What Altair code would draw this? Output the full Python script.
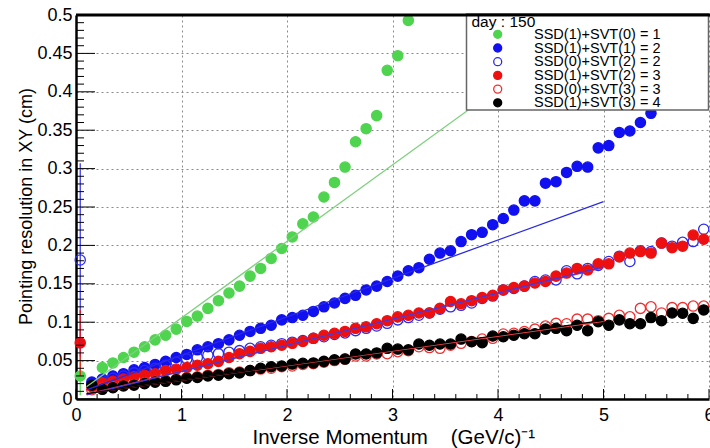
import altair as alt
import pandas as pd

series_names = [
    "SSD(1)+SVT(0) = 1",
    "SSD(1)+SVT(1) = 2",
    "SSD(0)+SVT(2) = 2",
    "SSD(1)+SVT(2) = 3",
    "SSD(0)+SVT(3) = 3",
    "SSD(1)+SVT(3) = 4",
]
legend_title = "day : 150"
stroke_cols = ["#4fd44f", "#1010f0", "#2b2bf0", "#ee1010", "#ee3030", "#000000"]
fill_cols = ["#4fd44f", "#1010f0", "transparent", "#ee1010", "transparent", "#000000"]

x_bins = [0.15, 0.25, 0.35, 0.45, 0.55, 0.65, 0.75, 0.85, 0.95, 1.05,
          1.15, 1.25, 1.35, 1.45, 1.55, 1.65, 1.75, 1.85, 1.95, 2.05,
          2.15, 2.25, 2.35, 2.45, 2.55, 2.65, 2.75, 2.85, 2.95, 3.05,
          3.15, 3.25, 3.35, 3.45, 3.55, 3.65, 3.75, 3.85, 3.95, 4.05,
          4.15, 4.25, 4.35, 4.45, 4.55, 4.65, 4.75, 4.85, 4.95, 5.05,
          5.15, 5.25, 5.35, 5.45, 5.55, 5.65, 5.75, 5.85, 5.95]

green_x = [0.25, 0.35, 0.45, 0.55, 0.65, 0.75, 0.85, 0.95, 1.05, 1.15,
           1.25, 1.35, 1.45, 1.55, 1.65, 1.75, 1.85, 1.95, 2.05, 2.15,
           2.25, 2.35, 2.45, 2.55, 2.65, 2.75, 2.85, 2.95, 3.05, 3.15]
green_y = [.041, .047, .054, .061, .068, .077, .083, .091, .101, .108,
           .118, .128, .138, .147, .160, .170, .183, .196, .211, .228,
           .237, .263, .282, .302, .335, .352, .369, .428, .447, .493]

blue_y = [.022, .026, .030, .033, .038, .041, .045, .049, .054, .058,
          .064, .068, .072, .077, .083, .088, .092, .096, .103, .106,
          .109, .114, .120, .125, .131, .135, .142, .147, .153, .160,
          .167, .171, .182, .190, .193, .205, .214, .217, .227, .235,
          .246, .258, .258, .281, .283, .295, .303, .302, .327, .330,
          .347, .349, .360, .372, .386, .394, .408, .418, .430]

blue_open_y = [.018, .024, .027, .030, .034, .037, .040, .044, .048, .052,
               .054, .057, .059, .061, .063, .066, .068, .070, .072, .074,
               .076, .079, .081, .084, .086, .089, .092, .095, .0985, .103,
               .106, .109, .112, .117, .120, .122, .125, .131, .134, .142,
               .144, .147, .153, .155, .155, .167, .163, .170, .174, .179,
               .186, .179, .193, .192, .203, .199, .204, .205, .221]

red_y = [.016, .021, .023, .026, .029, .031, .033, .037, .039, .041,
         .044, .046, .049, .054, .059, .062, .066, .068, .070, .0725,
         .075, .079, .083, .0855, .088, .092, .094, .098, .102, .107,
         .109, .112, .112, .118, .127, .124, .128, .132, .135, .142,
         .145, .147, .151, .153, .160, .164, .170, .168, .176, .176,
         .185, .190, .192, .190, .203, .197, .199, .2135, .208]

red_open_y = [.012, .014, .016, .018, .019, .021, .023, .024, .026, .028,
              .029, .031, .032, .034, .035, .037, .039, .040, .042, .043,
              .045, .046, .048, .050, .052, .056, .056, .0586, .059, .0616,
              .063, .068, .067, .066, .070, .0725, .075, .078, .079, .0846,
              .0855, .0877, .091, .095, .0985, .098, .104, .104, .102, .105,
              .109, .107, .118, .120, .112, .119, .119, .121, .121]

black_y = [.018, .0126, .0147, .017, .018, .020, .022, .023, .025, .027,
           .028, .030, .031, .033, .034, .037, .040, .042, .043, .0455,
           .0465, .047, .049, .051, .052, .0586, .0586, .060, .066, .065,
           .064, .0716, .070, .0716, .0716, .078, .0746, .0733, .082, .081,
           .083, .085, .085, .091, .092, .089, .096, .089, .1007, .096,
           .103, .098, .098, .106, .102, .112, .1116, .105, .116]

# first bin points with large error bars
low_series = [series_names[0], series_names[2], series_names[3]]
low_x = [0.04, 0.04, 0.04]
low_y = [0.030, 0.181, 0.073]
low_lo = [0.005, 0.055, 0.030]
low_hi = [0.055, 0.307, 0.116]

# linear fits: endpoints
fit_x = [0.1, 5.0]
fit_y = {
    series_names[0]: [0.016, 0.504],
    series_names[1]: [0.012, 0.257],
    series_names[3]: [0.006, 0.171],
    series_names[2]: [0.0054, 0.172],
    series_names[4]: [0.007, 0.101],
    series_names[5]: [0.007, 0.1025],
}
fit_cols = {
    series_names[0]: "#7fd07f",
    series_names[1]: "#2a2ae0",
    series_names[2]: "#3a3ae6",
    series_names[3]: "#ee2020",
    series_names[4]: "#ee4040",
    series_names[5]: "#000000",
}

major_x = [0, 1, 2, 3, 4, 5, 6]
minor_x = [i / 5 for i in range(1, 30) if i % 5]
major_y = [0, 0.05, 0.1, 0.15, 0.2, 0.25, 0.3, 0.35, 0.4, 0.45, 0.5]
minor_y = [i / 100 for i in range(1, 50) if i % 5]

rows = []
rows += [{"series": series_names[0], "x": a, "y": b} for a, b in zip(green_x, green_y)]
for name, ys_ in zip(series_names[1:], [blue_y, blue_open_y, red_y, red_open_y, black_y]):
    rows += [{"series": name, "x": a, "y": b} for a, b in zip(x_bins, ys_)]
low_rows = [{"series": s, "x": a, "y": b, "lo": l, "hi": h}
            for s, a, b, l, h in zip(low_series, low_x, low_y, low_lo, low_hi)]
df = pd.DataFrame(rows + [{k: r[k] for k in ("series", "x", "y")} for r in low_rows])
df_low = pd.DataFrame(low_rows)

W, H = 633, 384
FONT = "Liberation Sans"
NB = "\u00a0"
xs = alt.Scale(domain=[0, 6], nice=False, zero=False)
ys = alt.Scale(domain=[0, 0.5], nice=False, zero=False)

xaxis = alt.Axis(
    values=major_x, format="d", labelFontSize=18, labelColor="black", labelPadding=7,
    labelFlush=False, labelOverlap=False, ticks=False,
    domainColor="black", domainWidth=2.5,
    grid=True, gridColor="#8a8a8a", gridDash=[2, 3], gridWidth=1,
    title="Inverse Momentum" + NB * 3 + " (GeV/c)⁻¹", titleFontSize=20.5, titleFontWeight="normal",
    titleColor="black", titleX=176, titleY=44, titleBaseline="alphabetic", titleAlign="left",
)
yaxis = alt.Axis(
    values=major_y, format=".2~f", labelFontSize=18, labelColor="black", labelPadding=4,
    labelFlush=False, labelOverlap=False, ticks=False,
    domainColor="black", domainWidth=2.5,
    grid=True, gridColor="#8a8a8a", gridDash=[2, 3], gridWidth=1,
    title="Pointing resolution in XY (cm)", titleFontSize=18, titleFontWeight="normal",
    titleColor="black", titleX=-45, titleY=191, titleAngle=270, titleAlign="center",
    titleBaseline="alphabetic",
)

X = lambda f: alt.X(f, scale=xs, axis=xaxis)
Y = lambda f: alt.Y(f, scale=ys, axis=yaxis)

points = alt.Chart(df).mark_point(size=105, strokeWidth=1.3, opacity=1, fillOpacity=1).encode(
    x=X("x:Q"),
    y=Y("y:Q"),
    stroke=alt.Stroke("series:N", scale=alt.Scale(domain=series_names, range=stroke_cols), legend=None),
    fill=alt.Fill("series:N", scale=alt.Scale(domain=series_names, range=fill_cols), legend=None),
)

errbars = alt.Chart(df_low).mark_rule(strokeWidth=1.2).encode(
    x=X("x:Q"),
    y=Y("lo:Q"),
    y2="hi:Q",
    stroke=alt.Stroke("series:N", scale=alt.Scale(domain=series_names, range=stroke_cols), legend=None),
)

fit_layers = []
for name, yv in fit_y.items():
    fdf = pd.DataFrame({"x": fit_x, "y": yv})
    fit_layers.append(
        alt.Chart(fdf).mark_line(strokeWidth=1.3, clip=True, color=fit_cols[name]).encode(
            x=X("x:Q"), y=Y("y:Q"),
        )
    )

def xticks(vals, length):
    return alt.Chart(pd.DataFrame({"x": vals})).mark_rule(color="black", strokeWidth=1).encode(
        x=X("x:Q"), y=alt.value(H), y2=alt.value(H - length))

def yticks(vals, length):
    return alt.Chart(pd.DataFrame({"y": vals})).mark_rule(color="black", strokeWidth=1).encode(
        y=Y("y:Q"), x=alt.value(0), x2=alt.value(length))

one = pd.DataFrame({"a": [0]})
legend_box = alt.Chart(one).mark_rect(
    fill="white", stroke="#666666", strokeWidth=1.5).encode(
    x=alt.value(390.5), x2=alt.value(632.5), y=alt.value(-1), y2=alt.value(95))

legend_layers = [
    alt.Chart(one).mark_text(text=legend_title, fontSize=15.5, font=FONT, align="left",
                             baseline="middle", color="black").encode(
        x=alt.value(395.5), y=alt.value(6.5))
]
ROW0, ROWSTEP = 19.3, 13.7
for i, name in enumerate(series_names):
    yy = ROW0 + i * ROWSTEP
    legend_layers.append(
        alt.Chart(one).mark_point(shape="circle", size=64, strokeWidth=1.3, opacity=1,
                                  fillOpacity=1, stroke=stroke_cols[i], fill=fill_cols[i]).encode(
            x=alt.value(421.7), y=alt.value(yy)))
    legend_layers.append(
        alt.Chart(one).mark_text(text=name, fontSize=14.5, font=FONT, align="left",
                                 baseline="middle", color="black").encode(
            x=alt.value(458), y=alt.value(yy + 0.5)))

top_frame = alt.Chart(one).mark_rule(color="black", strokeWidth=3).encode(
    x=alt.value(0), x2=alt.value(W + 2), y=alt.value(0))

chart = alt.layer(
    points, errbars, *fit_layers,
    xticks(major_x, 10), xticks(minor_x, 5),
    yticks(major_y, 19), yticks(minor_y, 8),
    legend_box, *legend_layers, top_frame,
).properties(
    width=W, height=H,
    autosize=alt.AutoSizeParams(type="none"),
    padding={"left": 76, "top": 15, "right": 1, "bottom": 49},
    background="white",
).configure(font=FONT).configure_view(strokeWidth=0)

chart.save("out.html", embed_options={"renderer": "svg", "actions": False})
